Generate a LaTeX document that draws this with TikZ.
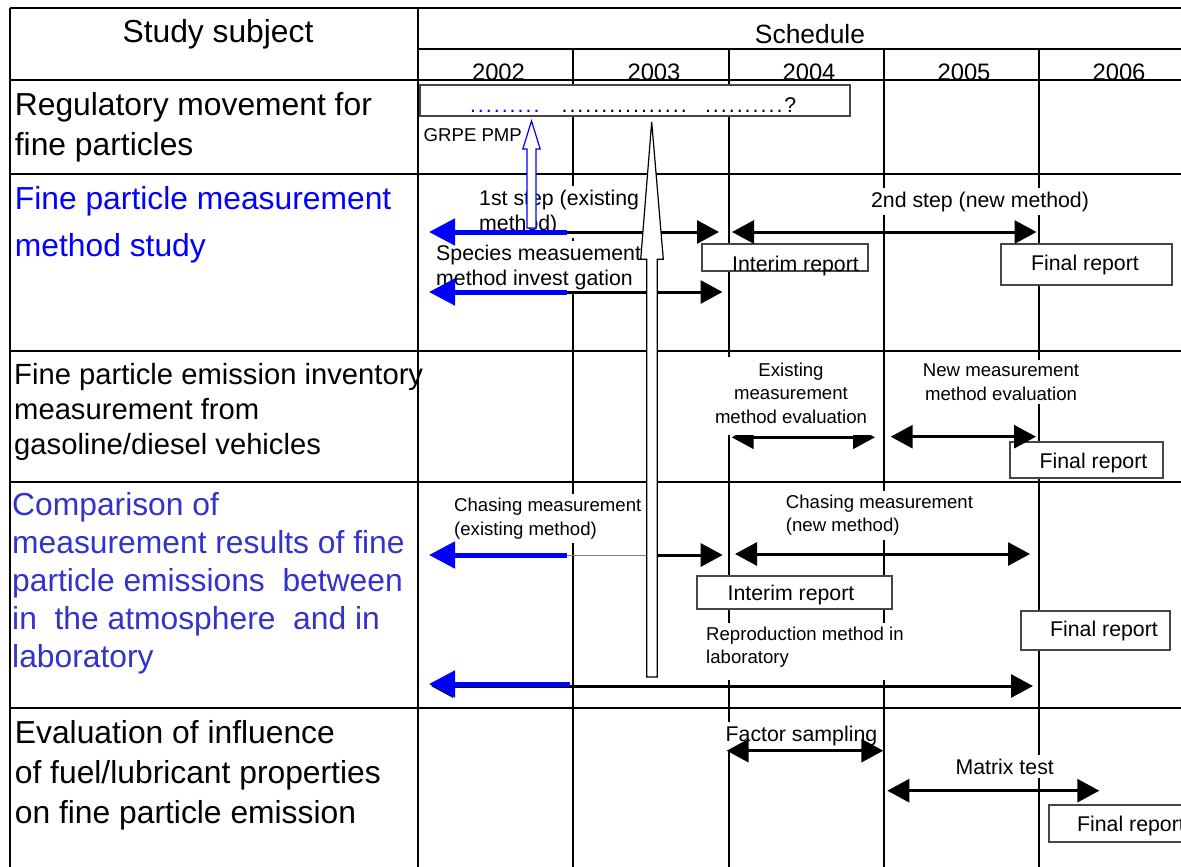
\documentclass[tikz,border=0pt]{standalone}
\usepackage{fontspec}
\setmainfont{Liberation Sans}
\usetikzlibrary{arrows.meta}

\definecolor{cmpblue}{RGB}{51,51,204}
\definecolor{boxgray}{RGB}{70,70,70}

\tikzset{
  grid/.style={line width=2.8pt},
  subj/.style={anchor=base west, inner sep=0pt, align=left},
  lbl/.style={anchor=base west, fill=white, inner sep=4pt, align=left,
    font=\fontsize{21.3pt}{24.5pt}\selectfont},
  slbl/.style={lbl, font=\fontsize{18.6pt}{23.7pt}\selectfont},
  report/.style={draw=boxgray, line width=1.2pt, fill=white, inner sep=0pt},
  rtxt/.style={anchor=base, inner sep=0pt, font=\fontsize{21.3pt}{24pt}\selectfont},
  dots/.style={anchor=base west, inner sep=0pt,
    font=\fontsize{21.3pt}{24pt}\selectfont\addfontfeature{LetterSpace=9.5}},
  bar/.style={line width=3pt, -{Triangle[length=22pt,width=23pt]}},
  twobar/.style={line width=3pt,
    {Triangle[length=22pt,width=23pt]}-{Triangle[length=22pt,width=23pt]}},
  bluebar/.style={draw=blue, line width=5pt, -{Triangle[length=26pt,width=26pt]}},
}

\begin{document}
\begin{tikzpicture}[x=1pt,y=-1pt]
\useasboundingbox (0,0) rectangle (1181,867);
\clip (0,0) rectangle (1181,867);

% header
\node[anchor=base, inner sep=0pt, font=\fontsize{31.8pt}{40pt}\selectfont] (subjhd) at (218,43) {Study subject};
\node[anchor=base, inner sep=0pt, font=\fontsize{26.4pt}{30pt}\selectfont] (schedhd) at (810,44) {Schedule};
\foreach \yr/\x in {2002/498.5,2003/654,2004/809,2005/964,2006/1119}
  \node[anchor=base, inner sep=0pt, font=\fontsize{23.8pt}{28pt}\selectfont] (y\yr) at (\x,81) {\yr};

% table
\draw[grid] (10,8) -- (1190,8);
\draw[grid] (10,8) -- (10,880);
\draw[grid] (418,8) -- (418,880);
\draw[grid] (418,49) -- (1190,49);
\foreach \y in {80,174,351,482,708}
  \draw[grid] (10,\y) -- (1190,\y);
\foreach \x in {573,729,884,1039}
  \draw[grid] (\x,49) -- (\x,880);

% study subjects (anchored on the last line)
\node[subj, font=\fontsize{31.8pt}{40pt}\selectfont] (regmov) at (14.7,155)
  {Regulatory movement for\\fine particles};
\node[subj, text=blue, font=\fontsize{31.8pt}{47pt}\selectfont] (measstudy) at (14.7,256)
  {Fine particle measurement\\method study};
\node[subj, font=\fontsize{29.2pt}{35pt}\selectfont] (inventory) at (14,454)
  {Fine particle emission inventory\\measurement from\\gasoline/diesel vehicles};
\node[subj, text=cmpblue, font=\fontsize{31.8pt}{37.8pt}\selectfont] (compare) at (12,667)
  {Comparison of\\measurement results of fine\\particle emissions\ \ between\\in\ \ the atmosphere\ \ and in\\laboratory};
\node[subj, font=\fontsize{31.8pt}{40pt}\selectfont] (fuelinfl) at (14.7,823.3)
  {Evaluation of influence\\of fuel/lubricant properties\\on fine particle emission};

% regulatory movement
\node[report, minimum width=430pt, minimum height=31pt] (regbox) at (635,100.5) {};
\node[dots, text=blue] (regd1) at (469.8,113) {.........};
\node[dots] (regd2) at (561.4,113) {................};
\node[dots] (regd3) at (704.8,113) {..........?};
\node[anchor=base west, inner sep=0pt, font=\fontsize{18.6pt}{22pt}\selectfont] (grpe) at (423.5,141.7) {GRPE PMP};

% labels (anchored on the last line)
\node[lbl] (step1) at (475,230) {1st step (existing\\method)};
\node[lbl, anchor=base] (step2) at (980,207) {2nd step (new method)};
\node[lbl] (species) at (432,285) {Species measuement\\method invest gation};
\node[slbl, anchor=base, align=center] (neweval) at (1001,400) {New measurement\\method evaluation};
\node[slbl] (chase1) at (450,535.4) {Chasing measurement\\(existing method)};
\node[slbl] (chase2) at (781.7,531.7) {Chasing measurement\\(new method)};
\node[slbl] (repro) at (702,663.7) {Reproduction method in\\laboratory\rule[-12pt]{0pt}{12pt}};
\node[lbl] (factor) at (721.5,741.7) {Factor sampling};
\node[lbl] (matrix) at (951.4,774) {Matrix test};

% reports
\node[report, minimum width=166pt, minimum height=27pt] (irA) at (785,257.5) {};
\node[rtxt] (irAt) at (795.5,271) {Interim report};
\node[report, minimum width=171pt, minimum height=41pt] (frA) at (1086.5,264.5) {};
\node[rtxt] (frAt) at (1085,270) {Final report};
\node[report, minimum width=153pt, minimum height=36pt] (frB) at (1086.5,460) {};
\node[rtxt] (frBt) at (1093.5,468) {Final report};
\node[report, minimum width=195pt, minimum height=33pt] (irB) at (794.5,592.5) {};
\node[rtxt] (irBt) at (791,600.7) {Interim report};
\node[report, minimum width=149pt, minimum height=39pt] (frC) at (1095.5,630.5) {};
\node[rtxt] (frCt) at (1104,636.7) {Final report};
\node[report, minimum width=161pt, minimum height=37pt] (frD) at (1129.5,823.5) {};
\node[rtxt] (frDt) at (1131,831.7) {Final report};

% bars
\coordinate (b1s) at (567,232);   \coordinate (b1e) at (719,232);   \coordinate (b1w) at (429,232);
\coordinate (b2s) at (732,232);   \coordinate (b2e) at (1036.5,232);
\coordinate (b3s) at (567,292);   \coordinate (b3e) at (722.5,292); \coordinate (b3w) at (429,292);
\coordinate (b4s) at (731.7,437.3); \coordinate (b4e) at (875,437.3);
\coordinate (b5s) at (890.7,436.7); \coordinate (b5e) at (1036,436.7);
\coordinate (b6s) at (567,555);   \coordinate (b6m) at (657,555);   \coordinate (b6e) at (722.7,555); \coordinate (b6w) at (429,555);
\coordinate (b7s) at (735,554);   \coordinate (b7e) at (1030,554);
\coordinate (b8s) at (431,686);   \coordinate (b8e) at (1033,686);
\coordinate (b8b) at (570,684);   \coordinate (b8w) at (429,684);
\coordinate (b9s) at (726.7,750.7); \coordinate (b9e) at (883.3,750.7);
\coordinate (b10s) at (887.3,790.7); \coordinate (b10e) at (1099.3,790.7);

\draw[bar] (b1s) -- (b1e);
\draw[bluebar] (b1s) -- (b1w);
\draw[twobar] (b2s) -- (b2e);
\draw[bar] (b3s) -- (b3e);
\draw[bluebar] (b3s) -- (b3w);
\draw[twobar] (b4s) -- (b4e);
\node[slbl, anchor=base, align=center, inner ysep=6pt] (exeval) at (791,423.4)
  {Existing\\measurement\\method evaluation\rule[-6pt]{0pt}{6pt}};
\draw[twobar] (b5s) -- (b5e);
\draw[gray, line width=1pt] (b6s) -- (b6m);
\draw[bar] (b6m) -- (b6e);
\draw[bluebar] (b6s) -- (b6w);
\draw[twobar] (b7s) -- (b7e);
\draw[twobar] (b8s) -- (b8e);
\draw[bluebar] (b8b) -- (b8w);
\draw[twobar] (b9s) -- (b9e);
\draw[twobar] (b10s) -- (b10e);

% big up arrow
\draw[line width=1.2pt, fill=white] (646.7,677) -- (646.7,259.3) -- (640.7,259.3) -- (651.7,122)
  -- (663.3,259.3) -- (657.3,259.3) -- (657.3,677) -- cycle;
% GRPE arrow
\draw[blue, line width=1.2pt, fill=white] (527,228) -- (527,149) -- (522.8,149) -- (531.5,121)
  -- (540.2,149) -- (536,149) -- (536,228) -- cycle;
\end{tikzpicture}
\end{document}
